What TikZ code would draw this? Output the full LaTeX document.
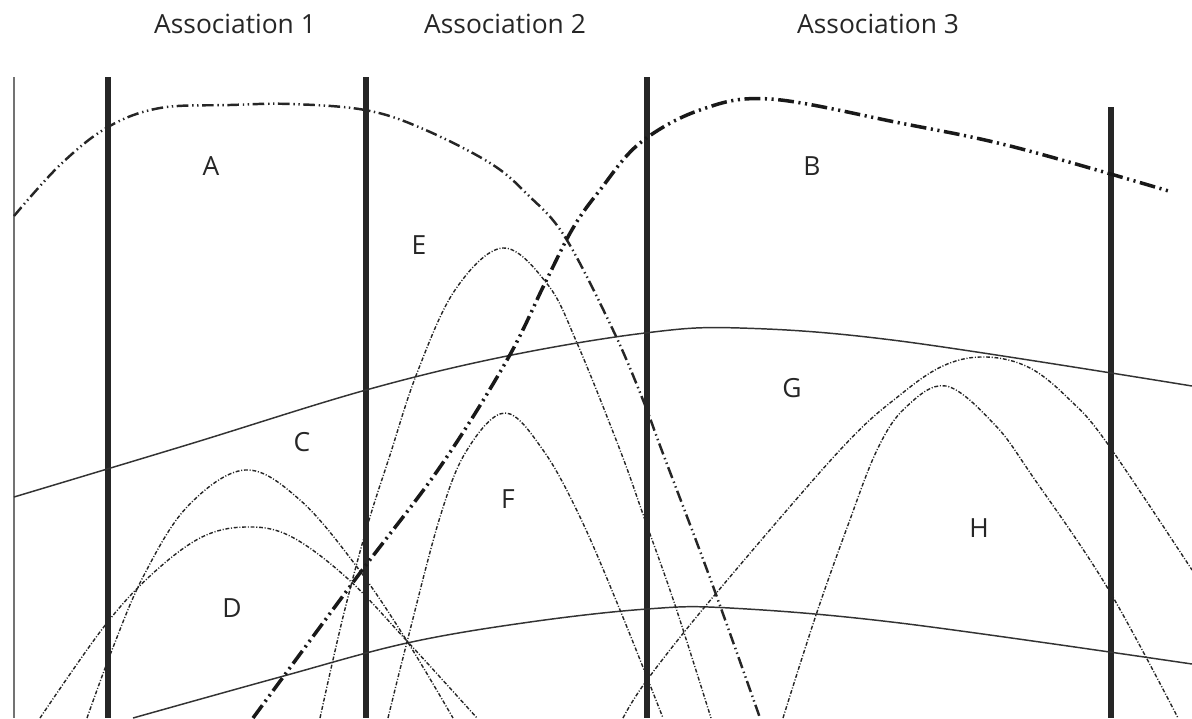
\documentclass[tikz,border=0pt]{standalone}
\usepackage{fontspec}
\setmainfont{Open Sans}
\usetikzlibrary{positioning}

\begin{document}
\begin{tikzpicture}[x=0.01cm, y=-0.01cm,
    bar/.style={line width=1.85pt, black!85},
    edge/.style={line width=0.45pt, black!55},
    lineA/.style={line width=0.7pt, black!85, dash pattern=on 3.3pt off 1.1pt on 0.4pt off 1pt on 0.4pt off 1pt},
    lineB/.style={line width=1pt, black!90, dash pattern=on 4.5pt off 1.3pt on 0.6pt off 1.3pt on 0.6pt off 1.3pt},
    solidcurve/.style={line width=0.42pt, black!80},
    bell/.style={line width=0.4pt, black!85, dash pattern=on 1.1pt off 0.5pt on 0.3pt off 0.5pt},
    title/.style={font=\fontsize{7.5}{9}\selectfont, text=black!85, anchor=base},
    region/.style={font=\fontsize{7.5}{9}\selectfont, text=black!85}]
    \useasboundingbox (0,0) rectangle (1192,718);
    \clip (0,0) rectangle (1192,718);
    % Titles
    \node[title] (t1) at (235,33) {Association 1};
    \node[title] (t2) at (505,33) {Association 2};
    \node[title] (t3) at (878,33) {Association 3};
    % Left edge and boundaries
    \draw[edge] (14,77) -- (14,718);
    \foreach \x in {108,366,647} {
        \draw[bar] (\x,77) -- (\x,718);
    }
    \draw[bar] (1111,107) -- (1111,718);
    % Solid curves
    \draw[solidcurve] plot[smooth, tension=0.6] coordinates {(14,497) (190,444) (366,390) (507,356) (645,333) (740,328) (900,341) (1192,386)};
    \draw[solidcurve] plot[smooth, tension=0.6] coordinates {(133,718) (280,677) (407,643) (530,622) (647,609) (730,608) (900,623) (1192,664)};
    % Bells
    \draw[bell] plot[smooth, tension=0.6] coordinates {(87,718) (112,650) (143,577) (187,507) (245,470) (300,500) (357,567) (407,641) (453,718)};
    \draw[bell] plot[smooth, tension=0.6] coordinates {(40,718) (103,628) (150,576) (200,538) (245,527) (290,536) (347,578) (407,641) (477,718)};
    \draw[bell] plot[smooth, tension=0.6] coordinates {(320,718) (343,617) (367,527) (390,455) (417,373) (455,290) (503,248) (548,285) (577,343) (620,450) (645,520) (675,605) (711,718)};
    \draw[bell] plot[smooth, tension=0.6] coordinates {(388,718) (407,642) (440,517) (467,450) (505,413) (543,450) (580,517) (620,610) (663,718)};
    \draw[bell] plot[smooth, tension=0.6] coordinates {(623,718) (647,680) (713,597) (840,450) (900,395) (945,365) (987,357) (1030,368) (1070,400) (1107,443) (1192,570)};
    \draw[bell] plot[smooth, tension=0.6] coordinates {(783,718) (816,615) (848,525) (877,450) (905,408) (946,386) (995,425) (1033,477) (1107,587) (1178,718)};
    % Dash-dot curves
    \draw[lineA] plot[smooth, tension=0.6] coordinates {(14,216) (60,165) (108,127) (160,108) (230,105) (291,104) (365,110) (421,128) (490,163) (528,195) (565,237) (613,330) (643,400) (662,451) (710,578) (760,718)};
    \draw[lineB] plot[smooth, tension=0.6] coordinates {(253,718) (357,577) (440,467) (507,360) (545,283) (573,228) (600,190) (640,143) (700,110) (770,99) (900,123) (1014,147) (1172,192)};
    % Region letters
    \node[region] (A) at (211,166) {A};
    \node[region] (B) at (812,166) {B};
    \node[region] (C) at (302,442) {C};
    \node[region] (D) at (232,608) {D};
    \node[region] (E) at (419,245) {E};
    \node[region] (F) at (508,499) {F};
    \node[region] (G) at (792,388) {G};
    \node[region] (H) at (979,528) {H};
\end{tikzpicture}
\end{document}
